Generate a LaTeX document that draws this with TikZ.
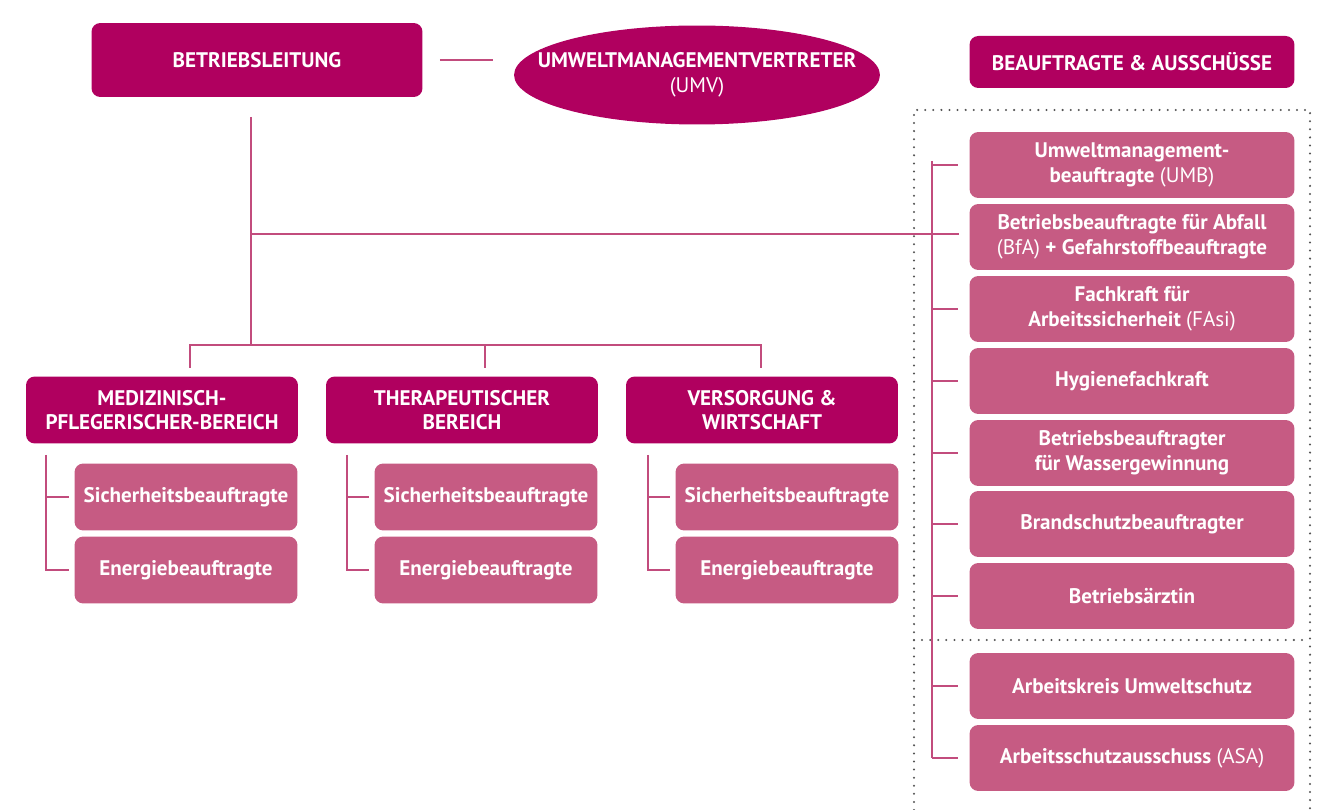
\documentclass[tikz,border=0pt]{standalone}
\usepackage{fontspec}
\setmainfont{PT Sans}
\usetikzlibrary{calc}

\definecolor{darkmag}{HTML}{B0005F}
\definecolor{lightmag}{HTML}{C65B83}
\definecolor{linemag}{HTML}{C24C7D}
\definecolor{dotgray}{HTML}{555555}

\tikzset{
    box/.style={rounded corners=5pt, align=center, text=white, inner sep=2pt,
        font=\bfseries\fontsize{12}{14}\selectfont},
    headbox/.style={box, fill=darkmag},
    secbox/.style={headbox, minimum width=5.44cm, minimum height=1.34cm},
    subbox/.style={box, fill=lightmag, minimum width=4.46cm, minimum height=1.34cm},
    rightbox/.style={box, fill=lightmag, minimum width=6.5cm, minimum height=1.32cm},
    conn/.style={linemag, line width=1.5pt},
    frame/.style={dotgray, line width=1.3pt, dash pattern=on 0pt off 4.6pt, line cap=round},
}

\begin{document}
\begin{tikzpicture}[x=0.02cm, y=-0.02cm]
    \useasboundingbox (0,0) rectangle (1328,810);

    % Top
    \node[headbox, minimum width=6.62cm, minimum height=1.48cm] (bl) at (257,60) {BETRIEBSLEITUNG};
    \coordinate (umvc) at (697,75);
    \fill[darkmag] (umvc) ellipse [x radius=3.66cm, y radius=0.99cm];
    \node[box, fill=none] (umv) at (umvc) {UMWELTMANAGEMENTVERTRETER\\{\mdseries (UMV)}};
    \node[headbox, minimum width=6.5cm, minimum height=1.04cm] (bua) at (1132,62) {BEAUFTRAGTE \& AUSSCHÜSSE};

    % Bereiche
    \node[secbox] (sec1) at (162,410) {MEDIZINISCH-\\PFLEGERISCHER-BEREICH};
    \node[secbox] (sec2) at (462,410) {THERAPEUTISCHER\\BEREICH};
    \node[secbox] (sec3) at (762,410) {VERSORGUNG \&\\WIRTSCHAFT};
    \foreach \i/\x in {1/186, 2/486, 3/787} {
        \node[subbox] (si\i) at (\x,497) {Sicherheitsbeauftragte};
        \node[subbox] (en\i) at (\x,570) {Energiebeauftragte};
    }

    % Beauftragte
    \node[rightbox] (r1) at (1132,165) {Umweltmanagement-\\beauftragte {\mdseries (UMB)}};
    \node[rightbox] (r2) at (1132,237) {Betriebsbeauftragte für Abfall\\{\mdseries (BfA)} + Gefahrstoffbeauftragte};
    \node[rightbox] (r3) at (1132,309) {Fachkraft für\\Arbeitssicherheit {\mdseries (FAsi)}};
    \node[rightbox] (r4) at (1132,381) {Hygienefachkraft};
    \node[rightbox] (r5) at (1132,453) {Betriebsbeauftragter\\für Wassergewinnung};
    \node[rightbox] (r6) at (1132,524) {Brandschutzbeauftragter};
    \node[rightbox] (r7) at (1132,596) {Betriebsärztin};
    \node[rightbox] (r8) at (1132,686) {Arbeitskreis Umweltschutz};
    \node[rightbox] (r9) at (1132,758) {Arbeitsschutzausschuss {\mdseries (ASA)}};

    % Dotted frame
    \draw[frame] (914,810) -- (914,110) -- (1310,110) -- (1310,810);
    \draw[frame] (914,640) -- (1310,640);

    % Lines
    \coordinate (umvl) at (493,60);
    \coordinate (blv) at (251,117);
    \coordinate (hub) at (251,234);
    \coordinate (fork) at (251,345);
    \coordinate (hubend) at (959,234);
    \coordinate (rtop) at (932,161);
    \coordinate (rbot) at (932,758);
    \draw[conn] ([xshift=0.34cm]bl.east) -- (umvl);
    \draw[conn] (blv) -- (fork);
    \draw[conn] (hub) -- (hubend);
    \draw[conn] (rtop) -- (rbot);
    \foreach \n in {r1,r3,r4,r5,r6,r7,r8,r9}
        \draw[conn] (\n.west -| rtop) -- ([xshift=-0.22cm]\n.west);
    \draw[conn] (190,368) -- (190,345) -- (761,345) -- (761,368);
    \draw[conn] (485,345) -- (485,368);
    \foreach \i/\x in {1/46, 2/347, 3/648} {
        \coordinate (b\i) at (\x,455);
        \draw[conn] (b\i) -- (b\i |- en\i.west) -- ([xshift=-0.1cm]en\i.west);
        \draw[conn] (b\i |- si\i.west) -- ([xshift=-0.1cm]si\i.west);
    }
\end{tikzpicture}
\end{document}
